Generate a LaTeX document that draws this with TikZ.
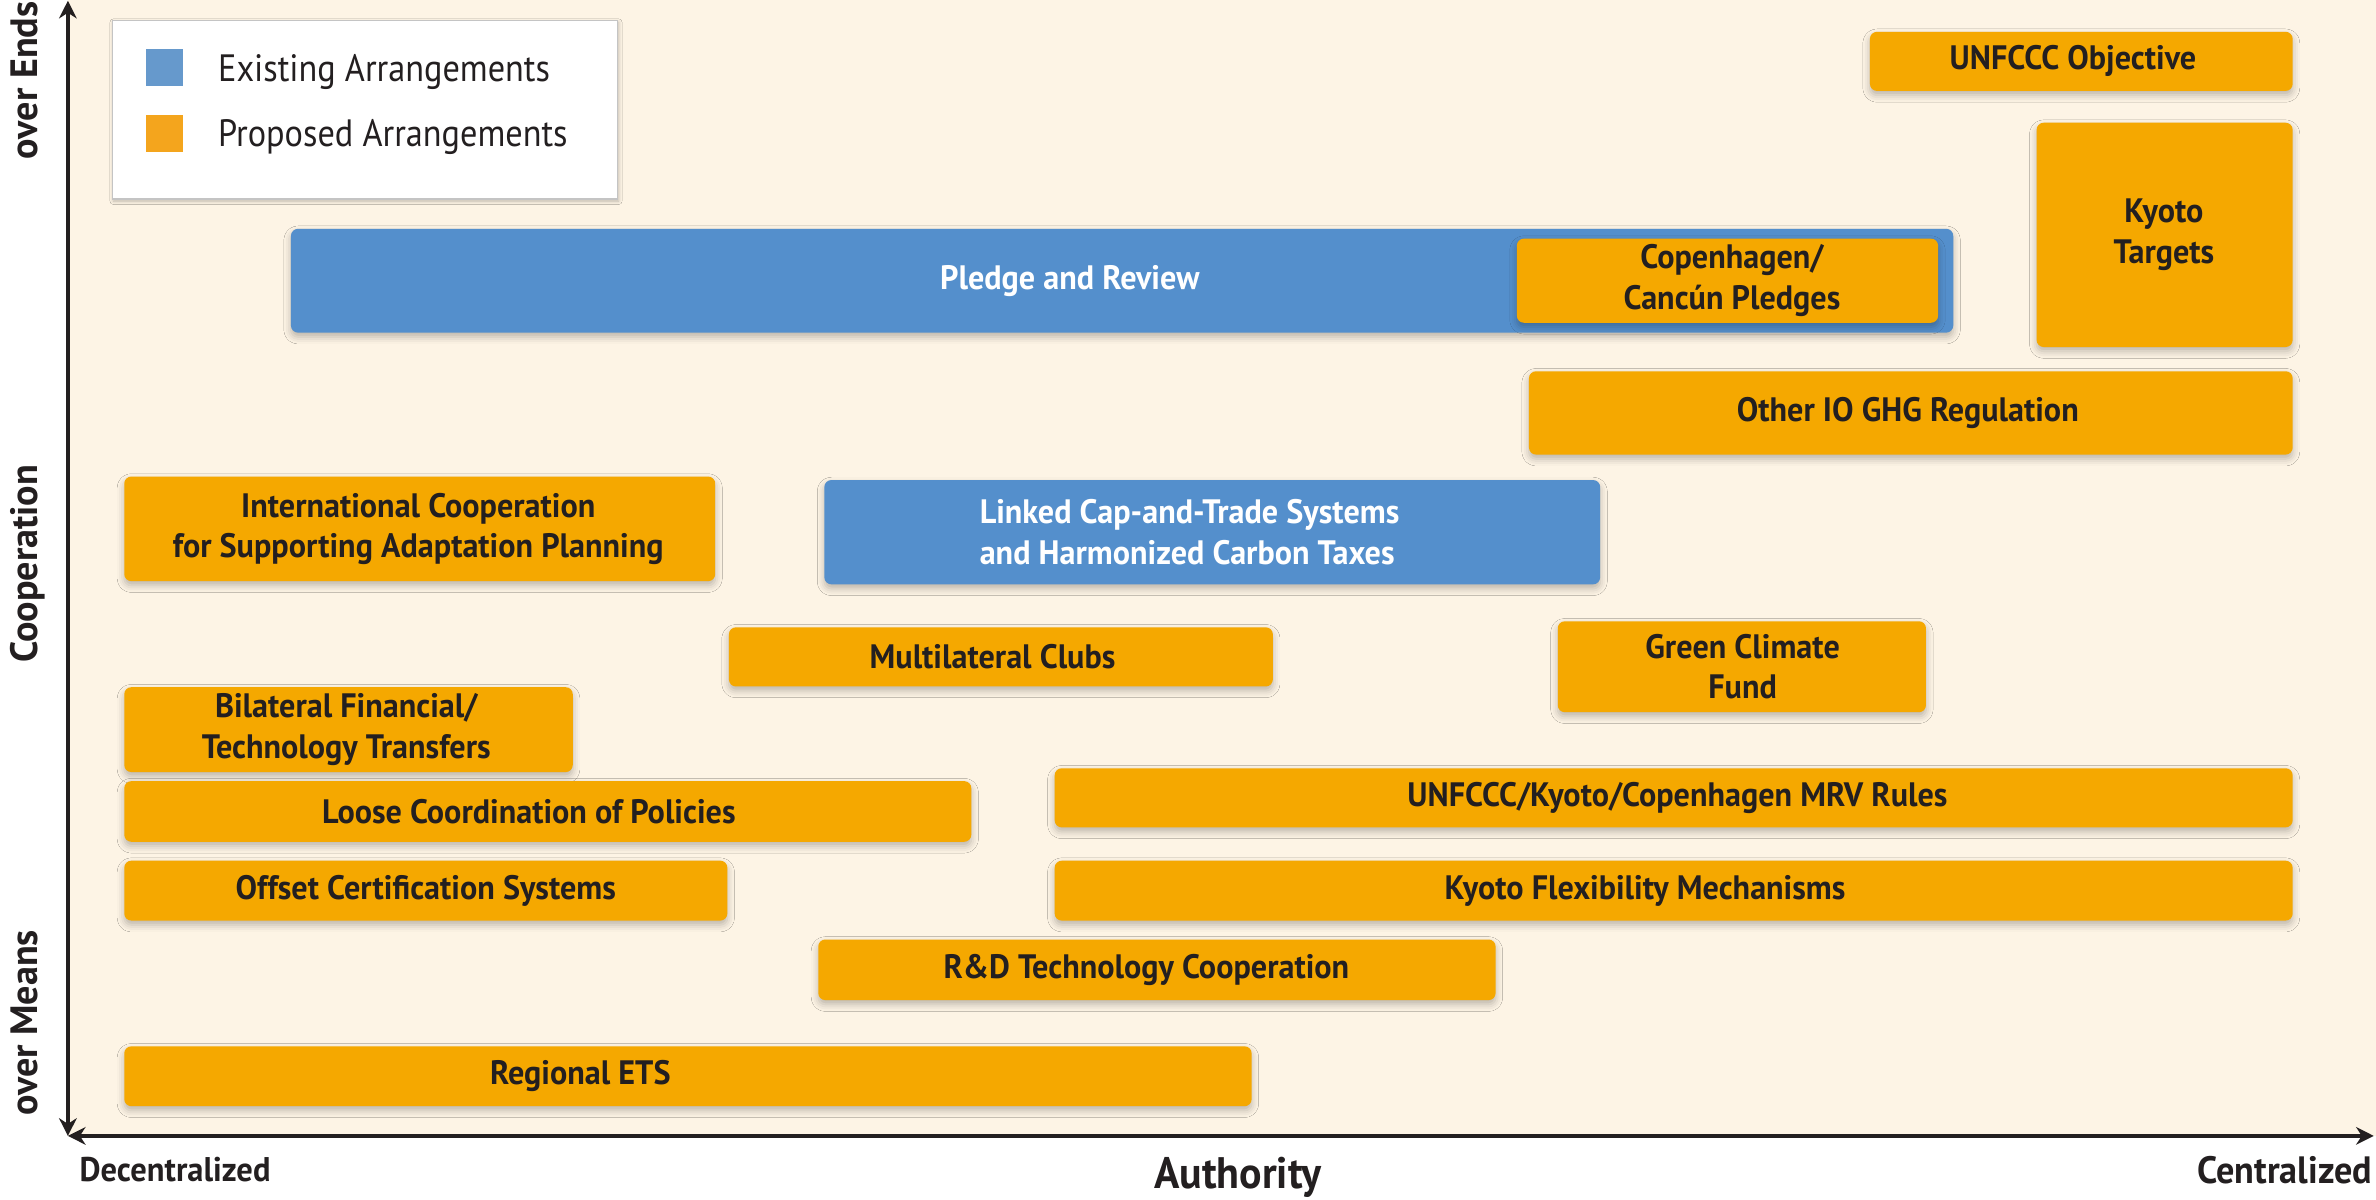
\documentclass[tikz,border=0pt]{standalone}
\usepackage{fontspec}
\usetikzlibrary{arrows.meta,shadows.blur}
\newfontfamily\bxf{PT Sans}[FakeStretch=0.95]
\newfontfamily\lgf{PT Sans}[FakeStretch=0.9]
\newfontfamily\axf{PT Sans}
\definecolor{bgc}{HTML}{FDF4E5}
\definecolor{blu}{HTML}{548FCC}
\definecolor{org}{HTML}{F5A800}
\definecolor{ink}{HTML}{231F20}
\definecolor{lgblu}{HTML}{6699CC}
\definecolor{lgorg}{HTML}{F4A51D}
\definecolor{lggray}{HTML}{C4C4C4}
\tikzset{
  box/.style={draw=none, rounded corners=2pt, inner sep=0pt, outer sep=0pt,
    blur shadow={shadow xshift=0pt, shadow yshift=-1.2pt, shadow blur radius=2pt, shadow opacity=26}},
  obox/.style={box, fill=org},
  bbox/.style={box, fill=blu},
  btxt/.style={font=\bxf\bfseries\fontsize{9.6}{11.5}\selectfont, text=ink, align=center, inner sep=0pt},
  wtxt/.style={btxt, text=white},
  axlab/.style={font=\axf\bfseries\fontsize{10.8}{13}\selectfont, text=ink, rotate=90, anchor=base, inner sep=0pt},
  endlab/.style={font=\bxf\bfseries\fontsize{9.7}{12}\selectfont, text=ink, inner sep=0pt},
  legtxt/.style={font=\lgf\fontsize{10.8}{13}\selectfont, text=ink, anchor=base west, inner sep=0pt},
  axis/.style={line width=1.15pt, draw=ink, -{Stealth[length=5pt,width=5pt,inset=1.6pt]}},
}
% #1 text style, #2 name, #3 x1, #4 y1, #5 x2, #6 y2, #7 box style, #8 text x, #9 text
\newcommand\bx[9][btxt]{%
  \pgfmathsetmacro\bw{(#5-#3)*0.42953}%
  \pgfmathsetmacro\bh{(#6-#4)*0.42953}%
  \node[#7, minimum width=\bw pt, minimum height=\bh pt] (#2) at ({(#3+#5)/2},{(#4+#6)/2}) {};%
  \node[#1] (#2-t) at (#8,{(#4+#6)/2}) {#9};}
\begin{document}
\begin{tikzpicture}[x=0.42953pt, y=-0.42953pt]
\useasboundingbox (0,0) rectangle (1568,791.3);
\fill[bgc] (44.8,0) rectangle (1568,749.6);
% legend
\node[draw=lggray, line width=0.5pt, fill=white, inner sep=0pt, minimum width={333.3*0.42953pt}, minimum height={117.9*0.42953pt},
  blur shadow={shadow xshift=0.3pt, shadow yshift=-0.5pt, shadow blur radius=1pt, shadow opacity=25}] (legend) at (240.85,72.55) {};
\node[fill=lgblu, inner sep=0pt, minimum width={24.2*0.42953pt}, minimum height={23.9*0.42953pt}] (lgb) at (108.7,44.55) {};
\node[fill=lgorg, inner sep=0pt, minimum width={24.2*0.42953pt}, minimum height={24.2*0.42953pt}] (lgo) at (108.7,88) {};
\node[legtxt] (lgbt) at (143.5,53.9) {Existing Arrangements};
\node[legtxt] (lgot) at (143.5,96.8) {Proposed Arrangements};
% boxes
\bx{unfccc}{1234}{21}{1513}{60}{obox}{1368}{UNFCCC Objective}
\bx{kyotot}{1344}{81}{1513}{229}{obox}{1428}{Kyoto\\Targets}
\node[bbox, minimum width={1097*0.42953pt}, minimum height={68.5*0.42953pt}] (pledge) at (740.5,185.25) {};
\node[wtxt] (pledge-t) at (706,185.25) {Pledge and Review};
\bx{copen}{1001}{157.5}{1279}{213}{obox}{1143}{Copenhagen/\\Cancún Pledges}
\bx{otherio}{1009}{245}{1513}{300}{obox}{1259}{Other IO GHG Regulation}
\bx{intl}{82}{314.5}{472}{383.5}{obox}{276}{International Cooperation\\for Supporting Adaptation Planning}
\node[bbox, minimum width={512*0.42953pt}, minimum height={68.8*0.42953pt}] (linked) at (800,351.2) {};
\node[wtxt, align=left] (linked-t) at (785,351.2) {Linked Cap-and-Trade Systems\\and Harmonized Carbon Taxes};
\bx{multi}{481}{414}{840}{453}{obox}{655}{Multilateral Clubs}
\bx{green}{1028}{410}{1271}{470}{obox}{1150}{Green Climate\\Fund}
\bx{bilat}{82}{453.5}{378}{509.5}{obox}{228.5}{Bilateral Financial/\\Technology Transfers}
\bx{mrv}{696}{507}{1513}{546}{obox}{1107}{UNFCCC/Kyoto/Copenhagen MRV Rules}
\bx{loose}{82}{515.5}{641}{555.5}{obox}{349}{Loose Coordination of Policies}
\bx{offset}{82}{568}{480}{607.5}{obox}{281}{Offset Certification Systems}
\bx{flex}{696}{568}{1513}{607.5}{obox}{1085.6}{Kyoto Flexibility Mechanisms}
\bx{rd}{540}{620}{987}{660}{obox}{756.5}{R\&D Technology Cooperation}
\bx{regional}{82}{690.5}{826}{730}{obox}{383}{Regional ETS}
% axes
\coordinate (origin) at (44.8,749.6);
\coordinate (ytop) at (44.8,0.5);
\coordinate (xend) at (1566.5,749.6);
\coordinate (mid) at (44.8,375);
\draw[axis] (mid) -- (ytop);
\draw[axis] (mid) -- (origin);
\draw[axis] (1000,749.6) -- (xend);
\draw[axis] (1000,749.6) -- (origin);
% axis labels
\node[axlab] (ends) at (24.5,53) {over Ends};
\node[axlab] (coop) at (24.5,372) {Cooperation};
\node[axlab] (means) at (24.5,675) {over Means};
\node[endlab, anchor=base west] (decen) at (52,780) {Decentralized};
\node[endlab, font=\bxf\bfseries\fontsize{10.8}{12}\selectfont, anchor=base east] (cen) at (1566,781) {Centralized};
\node[endlab, font=\bxf\bfseries\fontsize{12.5}{14}\selectfont, anchor=base] (auth) at (817,784) {Authority};
\end{tikzpicture}
\end{document}
